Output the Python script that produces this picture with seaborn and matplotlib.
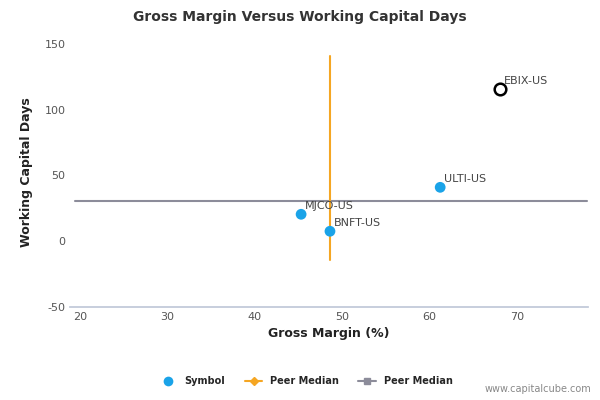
import matplotlib
matplotlib.use("Agg")
import matplotlib.pyplot as plt
import seaborn as sns
import pandas as pd
from matplotlib.lines import Line2D

symbols = ["EBIX-US", "ULTI-US", "MJCO-US", "BNFT-US"]
gross_margin = [68.0, 61.2, 45.3, 48.6]
wc_days = [115.5, 41.0, 20.5, 7.6]
peer_median_x = 48.6
peer_median_y = 30.4
vline_y = [-14, 141]
hline_x = [19.5, 78]

sns.set_theme(style="white")
plt.rcParams['font.family'] = ['DejaVu Sans']
plt.rcParams['axes.unicode_minus'] = False
fig = plt.figure(figsize=(6, 4), dpi=100)
ax = fig.add_axes([0.117, 0.2325, 0.863, 0.674])
df = pd.DataFrame({"sym": symbols, "x": gross_margin, "y": wc_days})

ax.plot(hline_x, [peer_median_y]*2, color="#8c8c9a", lw=1.5, zorder=1)
ax.plot([peer_median_x]*2, vline_y, color="#f5a623", lw=1.5, zorder=2)
sns.scatterplot(data=df.iloc[1:], x="x", y="y", color="#1aa3e8", s=60, edgecolor="none", ax=ax, zorder=3, legend=False)
ax.scatter(df.x.iloc[0], df.y.iloc[0], s=70, facecolor="white", edgecolor="black", linewidth=1.8, zorder=3)
for s, x, y in zip(symbols, gross_margin, wc_days):
    ax.annotate(s, (x, y), xytext=(3, 4), textcoords="offset points", fontsize=8, color="#444444")

ax.set_xlim(18.9, 78.1)
ax.set_ylim(-50, 155)
ax.set_xticks([20, 30, 40, 50, 60, 70])
ax.set_yticks([-50, 0, 50, 100, 150])
ax.tick_params(labelsize=8, colors="#555555", length=0)
for sp in ["top", "right", "left"]:
    ax.spines[sp].set_visible(False)
ax.spines["bottom"].set_color("#c0c8d8")
ax.set_xlabel("Gross Margin (%)", fontsize=9, fontweight="bold", color="#222222")
ax.set_ylabel("Working Capital Days", fontsize=9, fontweight="bold", color="#222222", labelpad=8)
fig.suptitle("Gross Margin Versus Working Capital Days", fontsize=10, fontweight="bold", color="#333333", y=0.975)

handles = [
    Line2D([], [], marker="o", color="none", markerfacecolor="#1aa3e8", markeredgecolor="none", markersize=7, label="Symbol"),
    Line2D([], [], marker="D", color="#f5a623", markersize=4, label="Peer Median"),
    Line2D([], [], marker="s", color="#8c8c9a", markersize=5, label="Peer Median"),
]
fig.legend(handles=handles, loc="center", bbox_to_anchor=(0.51, 0.047), ncol=3, frameon=False,
           prop={"size": 7, "weight": "bold"}, handlelength=1.8, columnspacing=2)
fig.text(0.985, 0.02, "www.capitalcube.com", fontsize=7, color="#888888", ha="right")
fig.savefig("out.png", dpi=100)
